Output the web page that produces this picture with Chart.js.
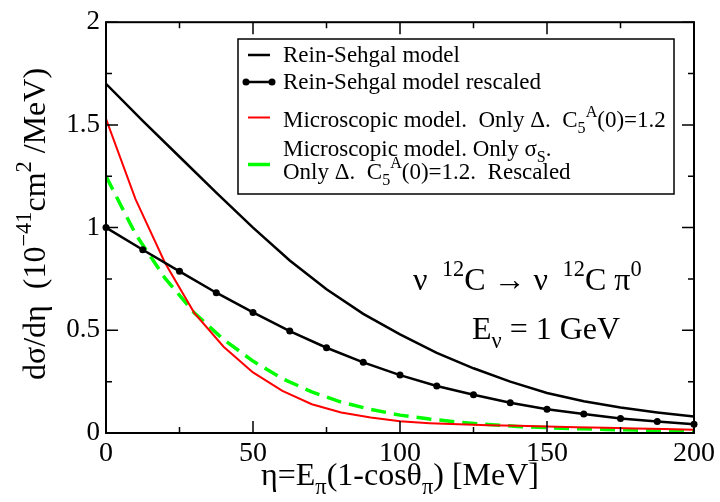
<!DOCTYPE html>
<html>
<head>
<meta charset="utf-8">
<script src="https://cdn.jsdelivr.net/npm/chart.js@4"></script>
<style>
html,body{margin:0;padding:0;background:#fff;}
canvas{display:block;}
</style>
</head>
<body>
<canvas id="c" width="720" height="502"></canvas>
<script>
// ---- data ----
const etaRescaled = [0,12.5,25,37.5,50,62.5,75,87.5,100,112.5,125,137.5,150,162.5,175,187.5,200];
const reinSehgal = [1.70,1.52,1.345,1.17,1.00,0.84,0.70,0.58,0.48,0.39,0.315,0.25,0.195,0.155,0.124,0.10,0.08];
const reinSehgalRescaled = [1.00,0.892,0.787,0.683,0.587,0.496,0.415,0.344,0.282,0.229,0.186,0.147,0.116,0.093,0.071,0.056,0.043];
const etaMicro = [0,10,20,30,40,50,60,70,80,90,100,110,120,130,140,150,160,170,180,190,200];
const microDelta = [1.53,1.14,0.83,0.585,0.42,0.295,0.205,0.14,0.10,0.075,0.057,0.048,0.042,0.038,0.035,0.032,0.028,0.025,0.022,0.019,0.016];
const microRescaled = [1.25,0.97,0.755,0.585,0.455,0.35,0.265,0.20,0.15,0.115,0.087,0.068,0.053,0.041,0.032,0.026,0.021,0.017,0.014,0.012,0.011];
const xTicks = [0,50,100,150,200];
const yTicks = [0,0.5,1,1.5,2];

const FONT = "'Liberation Serif','DejaVu Serif','Times New Roman',serif";

function pts(xs, ys){ return xs.map((x,i)=>({x:x, y:ys[i]})); }

function richWidth(ctx, segs, size){
  let w = 0;
  for (const [t,m] of segs){
    const s = m ? size*0.7 : size;
    ctx.font = s + "px " + FONT;
    w += ctx.measureText(t).width;
  }
  return w;
}
function drawRich(ctx, segs, x, y, size, align){
  let w = richWidth(ctx, segs, size);
  let cx = x;
  if (align === 'center') cx = x - w/2;
  ctx.textBaseline = 'alphabetic';
  ctx.textAlign = 'left';
  for (const [t,m] of segs){
    const s = m ? size*0.7 : size;
    ctx.font = s + "px " + FONT;
    let dy = 0;
    if (m === 'sup') dy = -size*0.45;
    if (m === 'sub') dy = size*0.28;
    ctx.fillText(t, cx, y + dy);
    cx += ctx.measureText(t).width;
  }
}

const decor = {
  id: 'decor',
  afterDatasetsDraw(chart){
    const ctx = chart.ctx;
    const a = chart.chartArea;
    const xs = chart.scales.x, ys = chart.scales.y;
    ctx.save();
    ctx.strokeStyle = '#000';
    ctx.fillStyle = '#000';
    ctx.lineWidth = 2;
    ctx.strokeRect(a.left, a.top, a.right - a.left, a.bottom - a.top);
    ctx.lineWidth = 1.5;
    ctx.beginPath();
    for (let v = 0; v <= 200.001; v += 25){
      const p = xs.getPixelForValue(v);
      const len = (Math.abs(v % 50) < 1e-6) ? 12 : 6;
      ctx.moveTo(p, a.bottom); ctx.lineTo(p, a.bottom - len);
      ctx.moveTo(p, a.top); ctx.lineTo(p, a.top + len);
    }
    for (let v = 0; v <= 2.0001; v += 0.25){
      const p = ys.getPixelForValue(v);
      const len = (Math.abs((v*2) % 1) < 1e-6) ? 12 : 6;
      ctx.moveTo(a.left, p); ctx.lineTo(a.left + len, p);
      ctx.moveTo(a.right, p); ctx.lineTo(a.right - len, p);
    }
    ctx.stroke();

    // legend box
    const lx = 238, ly = 39, lw = 436, lh = 155;
    ctx.fillStyle = '#fff';
    ctx.fillRect(lx, ly, lw, lh);
    ctx.strokeStyle = '#000';
    ctx.lineWidth = 1.5;
    ctx.strokeRect(lx, ly, lw, lh);
    ctx.fillStyle = '#000';
    const s0 = 248, s1 = 270, tx = 283, fs = 23;
    ctx.lineWidth = 2.5; ctx.strokeStyle = '#000';
    ctx.beginPath(); ctx.moveTo(s0, 55); ctx.lineTo(s1, 55); ctx.stroke();
    drawRich(ctx, [["Rein-Sehgal model",'']], tx, 62, fs);
    ctx.beginPath(); ctx.moveTo(s0-2, 82); ctx.lineTo(s1+2, 82); ctx.stroke();
    ctx.beginPath(); ctx.arc(s0-2, 82, 3.5, 0, Math.PI*2); ctx.fill();
    ctx.beginPath(); ctx.arc(s1+2, 82, 3.5, 0, Math.PI*2); ctx.fill();
    drawRich(ctx, [["Rein-Sehgal model rescaled",'']], tx, 88.5, fs);
    ctx.strokeStyle = '#ff0000'; ctx.lineWidth = 2;
    ctx.beginPath(); ctx.moveTo(s0, 117.5); ctx.lineTo(s1, 117.5); ctx.stroke();
    drawRich(ctx, [["Microscopic model.  Only \u0394.  C",''],["5",'sub'],["A",'sup'],["(0)=1.2",'']], tx, 127, fs);
    ctx.strokeStyle = '#00ff00'; ctx.lineWidth = 3.5;
    ctx.beginPath(); ctx.moveTo(s0, 164.5); ctx.lineTo(s1, 164.5); ctx.stroke();
    drawRich(ctx, [["Microscopic model. Only \u03c3",''],["S",'sub'],[".",'']], tx, 156, fs);
    drawRich(ctx, [["Only \u0394.  C",''],["5",'sub'],["A",'sup'],["(0)=1.2.  Rescaled",'']], tx, 178.5, fs);

    // annotation
    ctx.fillStyle = '#000';
    drawRich(ctx, [["\u03bd \u2009",''],["12",'sup'],["C \u2192 \u03bd \u2009",''],["12",'sup'],["C \u03c0",''],["0",'sup']], 413, 290, 32);
    drawRich(ctx, [["E",''],["\u03bd",'sub'],[" = 1 GeV",'']], 472, 339, 32);

    // x title
    drawRich(ctx, [["\u03b7=E",''],["\u03c0",'sub'],["(1-cos\u03b8",''],["\u03c0",'sub'],[") [MeV]",'']], (a.left + a.right)/2, 485, 32, 'center');

    // y title (rotated)
    ctx.save();
    ctx.translate(45, 224);
    ctx.rotate(-Math.PI/2);
    drawRich(ctx, [["d\u03c3/d\u03b7  (10",''],["\u221241",'sup'],["cm",''],["2",'sup'],[" /MeV)",'']], 0, 0, 32, 'center');
    ctx.restore();

    ctx.restore();
  }
};

new Chart(document.getElementById('c'), {
  type: 'line',
  data: {
    datasets: [
      { label: 'Rein-Sehgal model', data: pts(etaRescaled, reinSehgal), borderColor: '#000', borderWidth: 2.5, pointRadius: 0, tension: 0 },
      { label: 'Rein-Sehgal model rescaled', data: pts(etaRescaled, reinSehgalRescaled), borderColor: '#000', backgroundColor: '#000', borderWidth: 2.5, pointRadius: 3.5, pointBackgroundColor: '#000', pointBorderWidth: 0, tension: 0, clip: 8 },
      { label: 'Microscopic model. Only Delta', data: pts(etaMicro, microDelta), borderColor: '#ff0000', borderWidth: 2, pointRadius: 0, tension: 0 },
      { label: 'Microscopic model rescaled', data: pts(etaMicro, microRescaled), borderColor: '#00ff00', borderWidth: 3.5, borderDash: [15, 8], pointRadius: 0, tension: 0 }
    ]
  },
  options: {
    responsive: false,
    animation: false,
    devicePixelRatio: 1,
    layout: { padding: { left: 0, top: 19, right: 26, bottom: 0 } },
    plugins: { legend: { display: false }, tooltip: { enabled: false }, title: { display: false } },
    scales: {
      x: {
        type: 'linear', min: 0, max: 200,
        afterBuildTicks(s){ s.ticks = xTicks.map(v=>({value:v})); },
        afterFit(s){ s.height = 69; },
        grid: { display: false, drawTicks: false },
        border: { display: false },
        ticks: { font: { family: FONT, size: 28 }, color: '#000', padding: 4, maxRotation: 0, callback: v => String(v) }
      },
      y: {
        type: 'linear', min: 0, max: 2,
        afterBuildTicks(s){ s.ticks = yTicks.map(v=>({value:v})); },
        afterFit(s){ s.width = 106; },
        grid: { display: false, drawTicks: false },
        border: { display: false },
        ticks: { font: { family: FONT, size: 27 }, color: '#000', padding: 6, callback: v => String(v) }
      }
    }
  },
  plugins: [decor]
});
</script>
</body>
</html>
